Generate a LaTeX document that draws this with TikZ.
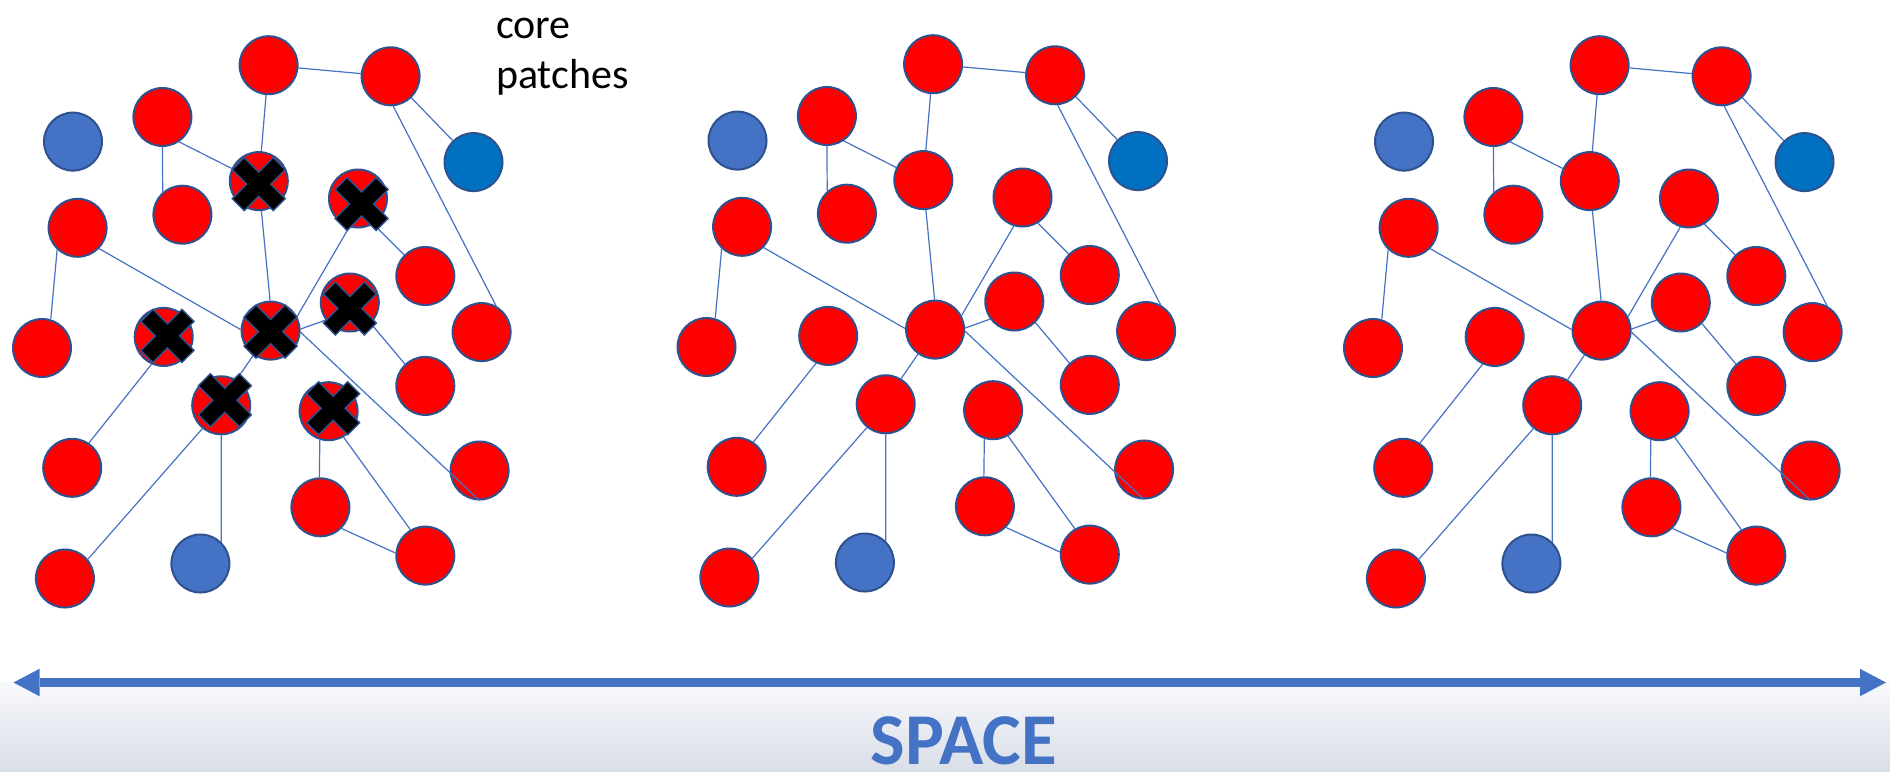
\documentclass[tikz,border=0pt]{standalone}
\usepackage{fontspec}
\setmainfont{Carlito}
\usetikzlibrary{arrows.meta}

\definecolor{dotred}{HTML}{FF0000}
\definecolor{rim}{HTML}{2F528F}
\definecolor{accent}{HTML}{4472C4}
\definecolor{deepblue}{HTML}{0070C0}
\definecolor{shadetop}{HTML}{F8F9FB}
\definecolor{shadebot}{HTML}{D9DEE8}

\tikzset{
  patch/.style={circle, draw=rim, line width=2pt, minimum size=58pt,
                inner sep=0pt, fill=dotred},
  bluepatch/.style={patch, fill=accent},
  deeppatch/.style={patch, fill=deepblue},
  link/.style={draw=accent, line width=1.2pt},
  label/.style={inner sep=0pt, anchor=base west,
                font=\fontsize{42}{50}\selectfont},
  xmark/.pic={
    \filldraw[fill=black, draw=rim, line width=1.4pt, rotate=45]
      (8.5,8.5) -- (8.5,29) -- (-8.5,29) -- (-8.5,8.5) -- (-29,8.5)
      -- (-29,-8.5) -- (-8.5,-8.5) -- (-8.5,-29) -- (8.5,-29)
      -- (8.5,-8.5) -- (29,-8.5) -- (29,8.5) -- cycle;
  },
}

% one network of patches; #1 = name prefix, #2 = shift
\newcommand\netpanel[2]{%
  \begin{scope}[shift={#2}]
    \node[patch]     (#1a)  at (268.6, 65.2) {};
    \node[patch]     (#1b)  at (390.6, 76.3) {};
    \node[patch]     (#1c)  at (162.4,117.0) {};
    \node[bluepatch] (#1d)  at ( 73.0,141.6) {};
    \node[deeppatch] (#1e)  at (473.5,162.1) {};
    \node[patch]     (#1x1) at (258.8,181.1) {};
    \node[patch]     (#1f)  at (182.4,214.7) {};
    \node[patch]     (#1x2) at (358.0,198.5) {};
    \node[patch]     (#1g)  at ( 77.6,227.8) {};
    \node[patch]     (#1h)  at (425.3,276.0) {};
    \node[patch]     (#1x3) at (270.6,330.6) {};
    \node[patch]     (#1x4) at (349.8,302.5) {};
    \node[patch]     (#1x5) at (163.7,336.9) {};
    \node[patch]     (#1i)  at ( 42.0,348.0) {};
    \node[patch]     (#1j)  at (481.6,332.1) {};
    \node[patch]     (#1k)  at (425.3,385.9) {};
    \node[patch]     (#1x6) at (221.2,405.3) {};
    \node[patch]     (#1x7) at (328.6,411.2) {};
    \node[patch]     (#1l)  at ( 72.2,467.8) {};
    \node[patch]     (#1m)  at (479.6,470.5) {};
    \node[patch]     (#1n)  at (320.4,507.3) {};
    \node[patch]     (#1o)  at ( 64.9,578.5) {};
    \node[bluepatch] (#1p)  at (200.4,563.5) {};
    \node[patch]     (#1q)  at (425.3,555.6) {};
  \end{scope}
  \draw[link] (#1a) -- (#1b);
  \draw[link] (#1a) -- (#1x1);
  \draw[link] (#1b) -- (#1e);
  \draw[link] (#1b.-85) -- (#1j.61);
  \draw[link] (#1c.-56) -- (#1x1.155);
  \draw[link] (#1c.south) -- (#1f.131);
  \draw[link] (#1g.-133) -- (#1i.73);
  \draw[link] (#1g.-44) -- (#1x3.178);
  \draw[link] (#1x1.-85) -- (#1x3.91);
  \draw[link] (#1x2.-59) -- (#1h.135);
  \draw[link] (#1x2.-107) -- (#1x3.28);
  \draw[link] (#1x3.3) -- (#1x4.216);
  \draw[link] (#1x4.-45) -- (#1k.133);
  \draw[link] (#1x3.-3) -- (#1m.south);
  \draw[link] (#1x3.-125) -- (#1x6.59);
  \draw[link] (#1x5.-114) -- (#1l.56);
  \draw[link] (#1x6.-129) -- (#1o.40);
  \draw[link] (#1x6.south) -- (#1p.46);
  \draw[link] (#1x7.-107) -- (#1n.92);
  \draw[link] (#1x7.-60) -- (#1q.120);
  \draw[link] (#1n.-45) -- (#1q.175);
}

\begin{document}
\begin{tikzpicture}[x=1pt, y=-1pt]
  \useasboundingbox (0,0) rectangle (1890,771);
  \fill[white] (0,0) rectangle (1890,771);
  \shade[top color=shadetop, bottom color=shadebot] (0,682) rectangle (1890,771);

  % three snapshots of the network
  \netpanel{p}{(0,0)}
  \netpanel{q}{(664.5,-1)}
  \netpanel{r}{(1331,0)}

  % lost core patches in the first snapshot
  \pic at ([shift={(0,3)}]px1.center) {xmark};
  \pic at ([shift={(3.7,5.5)}]px2.center) {xmark};
  \pic at ([shift={(0,1)}]px3.center) {xmark};
  \pic at ([shift={(0,6)}]px4.center) {xmark};
  \pic at ([shift={(3.7,-1)}]px5.center) {xmark};
  \pic at ([shift={(3.7,-5)}]px6.center) {xmark};
  \pic at ([shift={(4.5,-3)}]px7.center) {xmark};

  \node[label] (corelbl) at (496,38.4) {core};
  \node[label] (patcheslbl) at (496,88) {patches};

  % space axis
  \coordinate (axisL) at (13.5,682.5);
  \coordinate (axisR) at (1886,682.5);
  \draw[accent, line width=8.3pt,
        {Triangle[length=26pt,width=27.4pt,line width=0pt]}-{Triangle[length=26pt,width=27.4pt,line width=0pt]}]
    (axisL) -- (axisR);
  \node[inner sep=0pt, anchor=base, text=accent,
        font=\fontsize{73}{80}\selectfont\bfseries] (spacelbl) at (964,764) {SPACE};
\end{tikzpicture}
\end{document}
